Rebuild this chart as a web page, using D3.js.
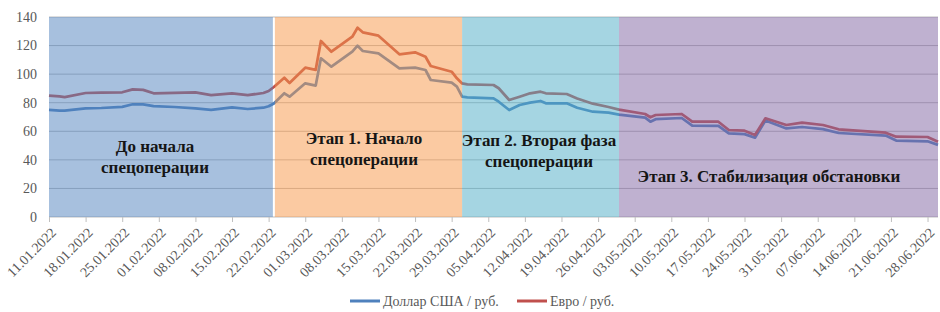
<!DOCTYPE html>
<html>
<head>
<meta charset="utf-8">
<script src="https://cdn.jsdelivr.net/npm/d3@7"></script>
<style>
  body { margin: 0; background: #fff; }
  svg { display: block; }
  svg text { font-family: "Liberation Serif", "Times New Roman", Times, "DejaVu Serif", serif !important; }
</style>
</head>
<body>
<div class="chart"></div>
<script>
const w = 940;
const h = 312;

// dates of the points (2022)
const dates = [
  "11.01", "13.01", "14.01", "18.01", "21.01", "25.01", "27.01", "29.01", "31.01",
  "04.02", "08.02", "11.02", "15.02", "18.02", "21.02", "22.02", "23.02", "25.02", "26.02",
  "01.03", "03.03", "04.03", "06.03", "10.03", "11.03", "12.03", "15.03", "19.03", "22.03",
  "24.03", "25.03", "29.03", "30.03", "31.03",
  "01.04", "06.04", "07.04", "09.04", "11.04", "13.04", "15.04", "16.04", "20.04", "22.04",
  "25.04", "28.04", "30.04",
  "05.05", "06.05", "07.05", "12.05", "14.05", "19.05", "21.05", "24.05", "26.05", "28.05",
  "01.06", "04.06", "08.06", "11.06", "20.06", "22.06", "28.06", "30.06"
];

// Доллар США / руб.
const usd = [
  75.0, 74.5, 74.4, 76.0, 76.3, 77.1, 78.9, 78.8, 77.6,
  77.0, 76.0, 75.0, 76.8, 75.6, 76.5, 77.5, 79.5, 86.6, 84.2,
  93.6, 92.0, 111.1, 105.2, 115.7, 119.9, 116.2, 114.6, 104.1, 104.5,
  102.9, 95.9, 94.0, 91.2, 84.2,
  83.8, 83.1, 80.7, 74.9, 78.4, 80.0, 81.2, 79.6, 79.6, 76.5,
  73.7, 73.0, 71.6,
  69.5, 66.7, 68.5, 69.3, 64.0, 63.8, 58.5, 58.0, 55.5, 67.5,
  62.0, 63.0, 61.5, 58.8, 57.0, 53.5, 53.0, 50.5
];

// Евро / руб.
const eur = [
  85.0, 84.4, 83.9, 86.8, 87.0, 87.3, 89.3, 89.0, 86.6,
  86.9, 87.2, 85.3, 86.6, 85.3, 86.8, 88.2, 91.0, 97.5, 93.8,
  104.5, 103.0, 123.2, 115.7, 126.2, 132.5, 129.3, 126.9, 113.9, 115.3,
  112.2, 105.7, 101.7, 97.1, 93.5,
  92.8, 92.4, 90.1, 81.9, 84.2, 86.6, 87.7, 86.6, 86.1, 83.0,
  79.3, 77.0, 75.2,
  72.1, 69.8, 71.4, 72.1, 66.7, 66.7, 60.9, 60.4, 57.4, 69.1,
  64.4, 66.0, 64.4, 61.4, 59.0, 56.2, 56.0, 52.7
];

const seriesNames = ["Доллар США / руб.", "Евро / руб."];

const tickLabels = [
  "11.01.2022", "18.01.2022", "25.01.2022", "01.02.2022", "08.02.2022", "15.02.2022",
  "22.02.2022", "01.03.2022", "08.03.2022", "15.03.2022", "22.03.2022", "29.03.2022",
  "05.04.2022", "12.04.2022", "19.04.2022", "26.04.2022", "03.05.2022", "10.05.2022",
  "17.05.2022", "24.05.2022", "31.05.2022", "07.06.2022", "14.06.2022", "21.06.2022",
  "28.06.2022"
];

const yTicks = [0, 20, 40, 60, 80, 100, 120, 140];

// phases: start / end dates and captions
const phaseStart = ["11.01", "23.02", "31.03", "30.04"];
const phaseEnd = ["23.02", "31.03", "30.04", "30.06"];
const phaseText = [
  ["До начала", "спецоперации"],
  ["Этап 1. Начало", "спецоперации"],
  ["Этап 2. Вторая фаза", "спецоперации"],
  ["Этап 3. Стабилизация обстановки"]
];

const parse = d3.timeParse("%d.%m.%Y");
const toDate = (s) => (s.length > 5 ? parse(s) : parse(s + ".2022"));

const svg = d3
  .select(".chart")
  .append("svg")
  .attr("width", w)
  .attr("height", h);

const xScale = d3
  .scaleTime()
  .domain([toDate("11.01"), toDate("30.06")])
  .range([49, 938]);

const yScale = d3.scaleLinear().domain([0, 140]).range([217, 17]);

//gridlines
svg
  .append("g")
  .selectAll("line")
  .data(yTicks)
  .enter()
  .append("line")
  .attr("x1", 49)
  .attr("x2", 938)
  .attr("y1", (d) => yScale(d))
  .attr("y2", (d) => yScale(d))
  .attr("stroke", "#bdbdbd")
  .attr("stroke-width", 1);

//lines
const line = d3
  .line()
  .x((d) => xScale(d.date))
  .y((d) => yScale(d.v));

const colours = ["#4f81bd", "#c0504d"];
[usd, eur].forEach((vals, k) => {
  const pts = vals.map((v, i) => ({ date: toDate(dates[i]), v: v }));
  svg
    .append("path")
    .datum(pts)
    .attr("d", line)
    .attr("fill", "none")
    .attr("stroke", colours[k])
    .attr("stroke-width", 2.75)
    .attr("stroke-linejoin", "round");
});

//phase bands (semi transparent, over the lines)
const bandColours = ["#4f81bd", "#f79646", "#4bacc6", "#8064a2"];
svg
  .append("g")
  .selectAll("rect")
  .data(phaseStart)
  .enter()
  .append("rect")
  .attr("x", (d, i) => xScale(toDate(d)) + (i === 1 ? 1 : 0))
  .attr("y", yScale(140))
  .attr("width", (d, i) => xScale(toDate(phaseEnd[i])) - xScale(toDate(d)) - (i === 0 ? 1 : 0) - (i === 1 ? 1 : 0))
  .attr("height", yScale(0) - yScale(140))
  .attr("fill", (d, i) => bandColours[i])
  .attr("fill-opacity", 0.5);

//y axis labels
svg
  .append("g")
  .selectAll("text")
  .data(yTicks)
  .enter()
  .append("text")
  .attr("x", 37)
  .attr("y", (d) => yScale(d))
  .attr("dy", "0.35em")
  .attr("text-anchor", "end")
  .attr("font-size", 14)
  .attr("fill", "#595959")
  .text((d) => d);

//x axis
const xAxis = d3
  .axisBottom(xScale)
  .tickValues(tickLabels.map(toDate))
  .tickFormat((d) => d3.timeFormat("%d.%m.%Y")(d))
  .tickSizeInner(5)
  .tickSizeOuter(0);

const gx = svg
  .append("g")
  .attr("transform", `translate(0, ${yScale(0)})`)
  .call(xAxis);

gx.attr("font-family", null);
gx.select(".domain").remove();
gx.selectAll(".tick line").attr("stroke", "#bfbfbf");
gx.selectAll(".tick text")
  .attr("font-size", 14)
  .attr("fill", "#595959")
  .attr("text-anchor", "end")
  .attr("x", 0)
  .attr("y", 0)
  .attr("dy", "0.35em")
  .attr("transform", "translate(4, 13) rotate(-45)");

//phase captions
const captionPos = [
  { x: 155, y: 152 },
  { x: 364, y: 144 },
  { x: 539, y: 146 },
  { x: 769, y: 182 }
];
phaseText.forEach((lines, i) => {
  lines.forEach((t, j) => {
    svg
      .append("text")
      .attr("x", captionPos[i].x)
      .attr("y", captionPos[i].y + j * 20.5)
      .attr("text-anchor", "middle")
      .attr("font-weight", "bold")
      .attr("font-size", 17)
      .attr("fill", "#151515")
      .text(t);
  });
});

//legend
const legendX = [350, 517];
const legend = svg.append("g").attr("transform", "translate(0, 301)");
seriesNames.forEach((name, i) => {
  legend
    .append("line")
    .attr("x1", legendX[i])
    .attr("x2", legendX[i] + 30)
    .attr("y1", 0)
    .attr("y2", 0)
    .attr("stroke", colours[i])
    .attr("stroke-width", 3);
  legend
    .append("text")
    .attr("x", legendX[i] + 33)
    .attr("y", 0)
    .attr("dy", "0.35em")
    .attr("font-size", 14)
    .attr("fill", "#595959")
    .text(name);
});
</script>
</body>
</html>
